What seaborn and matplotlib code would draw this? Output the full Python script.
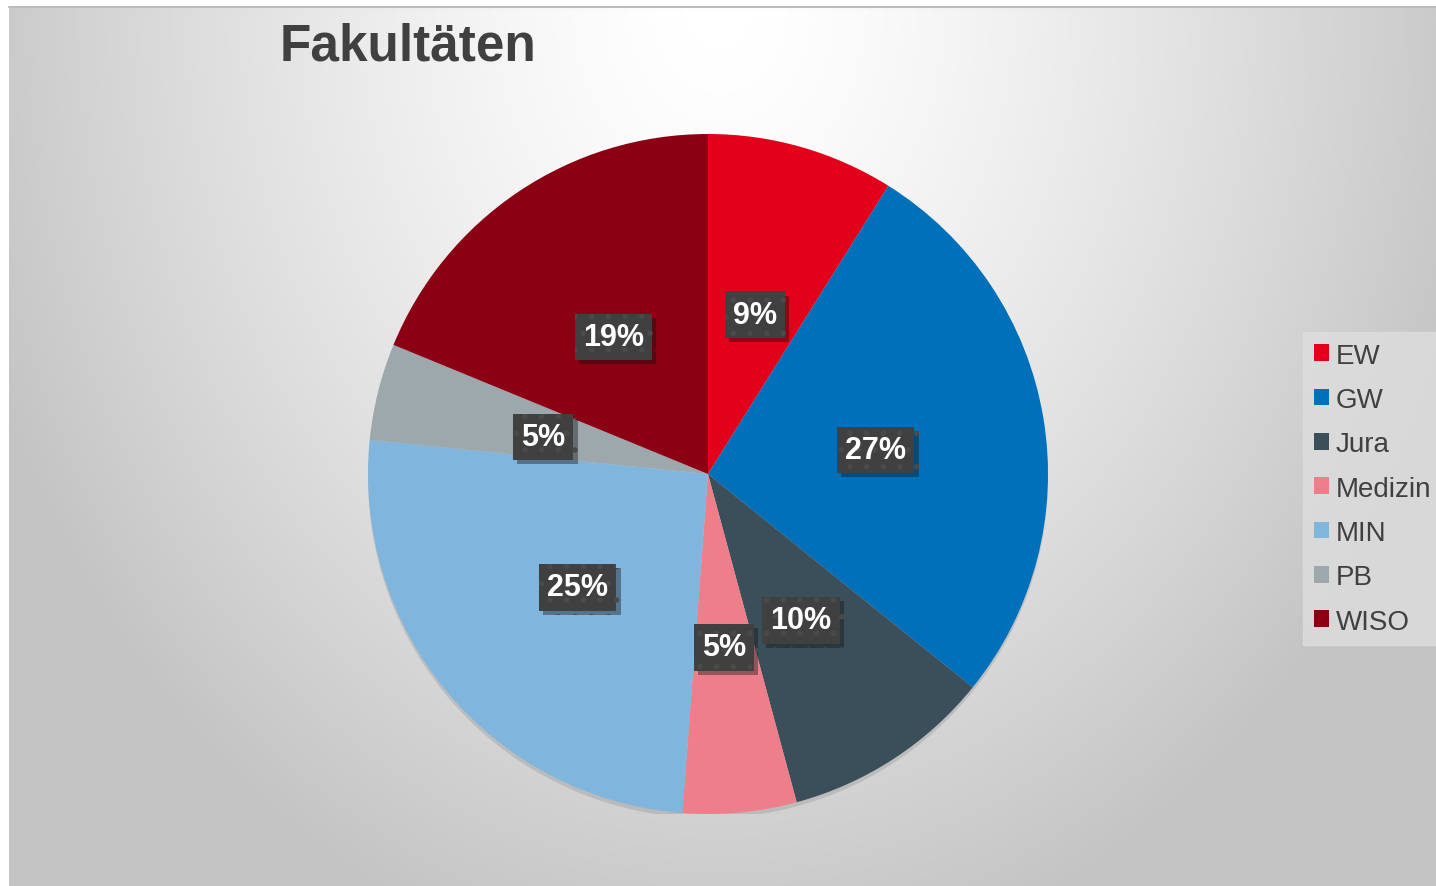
import numpy as np
import matplotlib
matplotlib.use("Agg")
import matplotlib.pyplot as plt
import matplotlib.patheffects as pe
from matplotlib.patches import Circle
import seaborn as sns

# Data
faculties = ['EW', 'GW', 'Jura', 'Medizin', 'MIN', 'PB', 'WISO']
shares = [8.9, 26.9, 10.0, 5.4, 25.4, 4.6, 18.8]
colors = ['#E2001A', '#0070BA', '#3B4F5B', '#EE7F8A', '#80B6DD', '#9DA8AD', '#8B0012']
title = 'Fakultäten'

sns.set_style('white')
plt.rcParams['font.family'] = ['Liberation Sans', 'DejaVu Sans']
plt.rcParams['hatch.linewidth'] = 1.5

W, H = 1436, 887
fig = plt.figure(figsize=(W / 100, H / 100), dpi=100)
fig.patch.set_facecolor('white')

# ------------------- background gradient -------------------
bg = fig.add_axes([9 / W, 0, 1 - 9 / W, 1 - 8 / H])
yy, xx = np.mgrid[0:880, 0:1427]
d = np.sqrt(((xx - 710) / 720.0) ** 2 + (yy / 900.0) ** 2)
shade = 1 - 0.22 * np.clip(d - 0.05, 0, 1.05) ** 1.3
bg.imshow(np.dstack([shade] * 3), aspect='auto', interpolation='bilinear')
bg.axis('off')
fig.add_artist(plt.Line2D([9 / W, 1], [1 - 7.5 / H] * 2, color='#bdbdbd', lw=1.5))

# ------------------- pie -------------------
cx, cy, r = 708, 475, 340
ax = fig.add_axes([(cx - r) / W, (H - cy - r) / H, 2 * r / W, 2 * r / H])
shadow = Circle((0, 0), 1, facecolor='#9a9a9a', edgecolor='none', alpha=0.0)
ax.add_patch(shadow)
shadow.set_path_effects([pe.SimplePatchShadow(offset=(0, -3), shadow_rgbFace='#888888', alpha=0.3)])
wedges, texts, autotexts = ax.pie(
    shares, colors=sns.color_palette(colors), startangle=90, counterclock=False,
    autopct='%1.0f%%', pctdistance=0.5, radius=1,
    wedgeprops=dict(linewidth=0),
    textprops=dict(color='white', fontsize=22, fontweight='bold'))
ax.set_xlim(-1, 1)
ax.set_ylim(-1, 1)
ax.set_aspect('equal')
ax.axis('off')

for t in autotexts:
    x, y = t.get_position()
    t.set_position((x, y - 0.012))
    t.set_bbox(dict(boxstyle='square,pad=0.27', facecolor='#404040', edgecolor='#4a4a4a',
                    linewidth=0, hatch='.'))
    t.get_bbox_patch().set_path_effects([pe.SimplePatchShadow(offset=(3, -3), alpha=0.4), pe.Normal()])

# ------------------- title -------------------
fig.text(280 / W, 1 - 47 / H, title, fontsize=37, fontweight='bold', color='#404040', va='center', ha='left')

# ------------------- legend -------------------
leg = fig.legend(wedges, faculties, loc='upper left', bbox_to_anchor=(1303 / W, 1 - 333 / H),
                 frameon=True, fancybox=False, facecolor='#dedede', edgecolor='#dedede',
                 fontsize=20, labelcolor='#404040', handlelength=0.55, handleheight=0.55,
                 handletextpad=0.25, labelspacing=0.66, borderpad=0.38, borderaxespad=0)

fig.savefig('out.png', dpi=100)
